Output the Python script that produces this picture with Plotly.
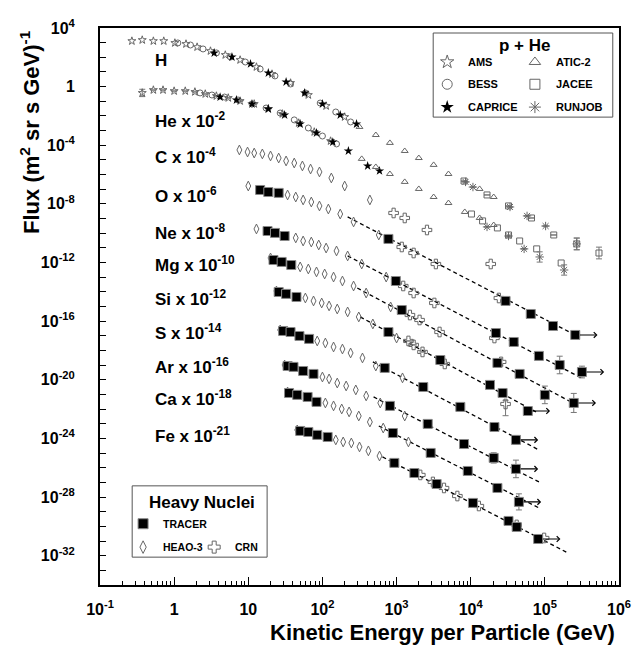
import numpy as np
import plotly.graph_objects as go

# ---------------- data: log10(E / GeV) and log10(flux) (unscaled) ----------------
# Protons
H_AMS_logE = [-0.57, -0.43, -0.28, -0.14, 0.01, 0.16, 0.31, 0.49, 0.69, 0.89, 1.11, 1.32, 1.57, 1.81, 2.05, 2.30]
H_AMS_logF = [3.11, 3.18, 3.11, 3.11, 2.98, 2.91, 2.70, 2.43, 2.16, 1.82, 1.34, 0.86, 0.25, -0.57, -1.32, -2.07]
H_BESS_logE = [0.05, 0.22, 0.39, 0.57, 0.76, 0.96, 1.16, 1.36, 1.57, 1.77, 1.97, 2.18, 2.38]
H_BESS_logF = [2.98, 2.84, 2.57, 2.30, 2.02, 1.68, 1.20, 0.73, 0.18, -0.43, -1.12, -1.73, -2.41]
H_CAPRICE_logE = [0.54, 0.78, 1.03, 1.27, 1.51, 1.76, 2.00, 2.24, 2.46]
H_CAPRICE_logF = [2.30, 2.02, 1.55, 0.93, 0.32, -0.43, -1.18, -1.93, -2.55]
H_ATIC_logE = [2.50, 2.72, 2.91, 3.11, 3.30, 3.50, 3.70, 4.12, 4.31]
H_ATIC_logF = [-2.75, -3.30, -3.84, -4.39, -4.87, -5.34, -5.96, -6.98, -7.53]
H_JACEE_logE = [3.91, 4.22, 4.51, 4.82, 5.12, 5.43, 5.73]
H_JACEE_logF = [-6.44, -7.39, -8.14, -8.96, -10.12, -10.73, -11.35]
H_JACEE_err = [0, 0, 0, 0, 0, 0.4, 0.4]
H_RUNJOB_logE = [3.93, 4.03, 4.53, 4.76, 5.01, 5.43]
H_RUNJOB_logF = [-6.50, -6.85, -8.21, -8.82, -9.51, -10.73]
H_RUNJOB_err = [0, 0, 0, 0, 0, 0.4]

# Helium
He_AMS_logE = [-0.43, -0.28, -0.15, 0.00, 0.15, 0.28, 0.42, 0.57, 0.73, 0.89, 1.08, 1.27, 1.46, 1.68, 1.89, 2.11]
He_AMS_logF = [1.57, 1.77, 1.77, 1.70, 1.70, 1.64, 1.50, 1.36, 1.23, 1.02, 0.82, 0.48, 0.14, -0.48, -1.09, -1.71]
He_AMS_err = [0.25, 0, 0, 0, 0, 0, 0, 0, 0, 0, 0, 0, 0, 0, 0, 0]
He_BESS_logE = [0.35, 0.51, 0.68, 0.86, 1.05, 1.24, 1.43, 1.62, 1.81, 2.00, 2.19]
He_BESS_logF = [1.57, 1.43, 1.29, 1.09, 0.82, 0.54, 0.20, -0.27, -0.82, -1.37, -1.91]
He_CAPRICE_logE = [0.62, 0.84, 1.05, 1.27, 1.49, 1.70, 1.92, 2.14, 2.35, 2.61, 2.77]
He_CAPRICE_logF = [1.29, 1.09, 0.82, 0.48, 0.07, -0.55, -1.16, -1.78, -2.39, -3.41, -3.75]
He_ATIC_logE = [2.53, 2.72, 2.91, 3.11, 3.30, 3.50, 3.70, 3.92, 4.12, 4.31]
He_ATIC_logF = [-2.93, -3.48, -3.96, -4.50, -4.98, -5.53, -5.94, -6.55, -6.96, -7.44]
He_JACEE_logE = [4.01, 4.16, 4.36, 4.51, 4.66, 4.89, 5.22]
He_JACEE_logF = [-6.69, -7.16, -7.64, -8.12, -8.53, -9.07, -10.03]
He_RUNJOB_logE = [4.22, 4.51, 4.72, 4.93, 5.26]
He_RUNJOB_logF = [-7.57, -8.19, -9.07, -9.62, -10.51]
He_RUNJOB_err = [0, 0, 0, 0.35, 0.35]

# Heavy nuclei: HEAO-3
C_HEAO_logE = [0.88, 0.99, 1.08, 1.19, 1.30, 1.41, 1.51, 1.62, 1.73, 1.84, 1.96, 2.12, 2.30, 2.64]
C_HEAO_logF = [-0.32, -0.46, -0.53, -0.59, -0.73, -0.87, -1.07, -1.21, -1.41, -1.62, -1.82, -2.23, -2.78, -3.73]
O_HEAO_logE = [1.00, 1.53, 1.64, 1.74, 1.85, 1.96, 2.08, 2.24, 2.42, 2.76]
O_HEAO_logF = [-0.78, -1.39, -1.53, -1.73, -1.87, -2.14, -2.35, -2.69, -3.23, -4.12]
Ne_HEAO_logE = [1.11, 1.64, 1.74, 1.85, 1.95, 2.05, 2.19, 2.34, 2.53, 2.86]
Ne_HEAO_logF = [-1.71, -2.32, -2.53, -2.60, -2.80, -3.01, -3.21, -3.55, -4.10, -4.99]
Mg_HEAO_logE = [1.30, 1.70, 1.81, 1.92, 2.03, 2.15, 2.27, 2.42, 2.59, 2.92]
Mg_HEAO_logF = [-1.69, -2.30, -2.44, -2.64, -2.78, -2.99, -3.26, -3.60, -4.08, -5.03]
Si_HEAO_logE = [1.38, 1.77, 1.88, 1.99, 2.09, 2.20, 2.34, 2.49, 2.68, 3.00]
Si_HEAO_logF = [-1.94, -2.42, -2.62, -2.76, -2.96, -3.17, -3.37, -3.71, -4.19, -5.15]
S_HEAO_logE = [1.43, 1.93, 2.04, 2.15, 2.27, 2.38, 2.54, 2.72, 3.08]
S_HEAO_logF = [-2.60, -3.35, -3.49, -3.76, -3.90, -4.17, -4.51, -5.06, -5.87]
Ar_HEAO_logE = [1.49, 2.00, 2.09, 2.20, 2.32, 2.45, 2.59, 2.78, 3.11]
Ar_HEAO_logF = [-2.99, -3.81, -3.94, -4.22, -4.42, -4.69, -5.10, -5.58, -6.47]
Ca_HEAO_logE = [1.53, 2.04, 2.15, 2.26, 2.36, 2.49, 2.64, 2.82, 3.16]
Ca_HEAO_logF = [-2.83, -3.58, -3.78, -3.99, -4.19, -4.47, -4.88, -5.29, -6.24]
Fe_HEAO_logE = [1.66, 2.18, 2.28, 2.39, 2.50, 2.62, 2.77]
Fe_HEAO_logF = [-2.42, -3.10, -3.24, -3.31, -3.58, -3.85, -4.20]

# Heavy nuclei: CRN
C_CRN_logE = [2.96, 3.11, 3.41, 4.27]
C_CRN_logF = [-4.62, -4.96, -5.78, -8.10]
O_CRN_logE = [3.07, 3.23, 3.53, 4.38]
O_CRN_logF = [-4.94, -5.35, -6.10, -8.42]
Ne_CRN_logE = [3.09, 3.23, 3.51, 4.32]
Ne_CRN_logF = [-5.60, -6.08, -6.76, -9.15]
Mg_CRN_logE = [3.18, 3.31, 3.58, 4.41]
Mg_CRN_logF = [-5.58, -5.92, -6.74, -8.78]
Si_CRN_logE = [3.16, 3.23, 3.35, 3.65, 4.47]
Si_CRN_logF = [-5.35, -5.62, -6.10, -6.92, -9.65]
Si_CRN_err_up = [0, 0, 0, 0, 0.25]
Si_CRN_err_dn = [0, 0, 0, 0, 0.8]
Fe_CRN_logE = [3.32, 3.49, 3.64, 3.82, 4.11, 4.62, 4.99]
Fe_CRN_logF = [-5.49, -5.97, -6.38, -6.93, -7.61, -8.90, -9.79]

# Heavy nuclei: TRACER
O_TR_logE = [1.16, 1.27, 1.41, 2.89, 4.47, 4.81, 5.11, 5.41]
O_TR_logF = [-1.05, -1.19, -1.25, -4.39, -8.62, -9.51, -10.33, -10.94]
O_TR_err = [0, 0, 0, 0, 0, 0, 0, 0]
Ne_TR_logE = [1.26, 1.36, 1.49, 2.99, 4.34, 4.58, 4.92, 5.20, 5.50]
Ne_TR_logF = [-1.85, -1.98, -2.19, -5.26, -8.81, -9.42, -10.37, -10.99, -11.47]
Ne_TR_err = [0, 0, 0, 0, 0, 0, 0, 0.6, 0.4]
Mg_TR_logE = [1.34, 1.45, 1.58, 3.07, 4.36, 4.66, 5.00, 5.39]
Mg_TR_logF = [-1.83, -1.96, -2.17, -5.24, -8.85, -9.60, -11.03, -11.58]
Mg_TR_err = [0, 0, 0, 0, 0, 0, 0.6, 0.65]
Si_TR_logE = [1.41, 1.51, 1.65, 2.89, 3.59, 4.26, 4.43, 4.77]
Si_TR_logF = [-2.01, -2.14, -2.35, -4.74, -6.65, -8.35, -8.90, -10.13]
Si_TR_err = [0, 0, 0, 0, 0, 0, 0, 0]
S_TR_logE = [1.47, 1.57, 1.69, 1.82, 2.84, 3.36, 3.86, 4.32, 4.61]
S_TR_logF = [-2.67, -2.74, -3.01, -3.21, -5.19, -6.49, -7.85, -9.22, -10.10]
S_TR_err = [0, 0, 0, 0, 0, 0, 0, 0, 0.3]
Ar_TR_logE = [1.53, 1.61, 1.74, 1.88, 2.91, 3.42, 3.91, 4.31, 4.61]
Ar_TR_logF = [-3.06, -3.12, -3.40, -3.60, -5.78, -7.01, -8.38, -9.33, -10.08]
Ar_TR_err = [0, 0, 0, 0, 0, 0, 0, 0.35, 0.6]
Ca_TR_logE = [1.55, 1.66, 1.80, 1.92, 2.95, 3.46, 3.96, 4.36, 4.65]
Ca_TR_logF = [-2.90, -3.03, -3.17, -3.51, -5.63, -6.99, -8.22, -9.38, -10.33]
Ca_TR_err = [0, 0, 0, 0, 0, 0, 0, 0, 0.55]
Fe_TR_logE = [1.70, 1.81, 1.93, 2.07, 2.97, 3.24, 3.54, 4.03, 4.51, 4.62, 4.91]
Fe_TR_logF = [-2.49, -2.56, -2.76, -2.90, -4.67, -5.36, -6.11, -7.40, -8.63, -9.04, -9.86]
Fe_TR_err = [0, 0, 0, 0, 0, 0, 0, 0, 0, 0, 0]

# TRACER power-law fits (log10 E range, log10 flux at the ends)
FIT_ELEMENTS = ["O", "Ne", "Mg", "Si", "S", "Ar", "Ca", "Fe"]
FIT_logE0 = [2.34, 2.34, 2.47, 2.51, 2.68, 2.69, 2.76, 2.81]
FIT_logE1 = [5.46, 5.49, 5.43, 4.88, 4.92, 4.92, 4.92, 5.31]
FIT_logF0 = [-2.89, -3.55, -3.74, -3.71, -4.78, -5.17, -5.15, -4.26]
FIT_logF1 = [-11.08, -11.87, -11.72, -10.19, -10.79, -10.97, -10.74, -10.81]

# scale factors (powers of ten) applied for display
SCALE = {"H": 0, "He": -2, "C": -4, "O": -6, "Ne": -8, "Mg": -10, "Si": -12,
         "S": -14, "Ar": -16, "Ca": -18, "Fe": -21}
LABELS = ["H", "He", "C", "O", "Ne", "Mg", "Si", "S", "Ar", "Ca", "Fe"]

# ---------------- styles ----------------
GRAY = "#666666"
STY = {
    "AMS": dict(symbol="star-open", size=6, color=GRAY, line=dict(width=1, color=GRAY)),
    "BESS": dict(symbol="circle-open", size=6, color=GRAY, line=dict(width=1, color=GRAY)),
    "CAPRICE": dict(symbol="star", size=7, color="black", line=dict(width=0)),
    "ATIC-2": dict(symbol="triangle-up-open", size=6, color=GRAY, line=dict(width=1, color=GRAY)),
    "JACEE": dict(symbol="square-open", size=6, color=GRAY, line=dict(width=1, color=GRAY)),
    "RUNJOB": dict(symbol="asterisk-open", size=7, color=GRAY, line=dict(width=1, color=GRAY)),
    "HEAO-3": dict(symbol="diamond-tall-open", size=7, color=GRAY, line=dict(width=1, color=GRAY)),
    "CRN": dict(symbol="cross-open", size=8, color=GRAY, line=dict(width=1, color=GRAY)),
    "TRACER": dict(symbol="square", size=9, color="black", line=dict(width=1, color="#888")),
}
LEG_SIZE = {"AMS": 10, "BESS": 10, "CAPRICE": 10, "ATIC-2": 10, "JACEE": 10, "RUNJOB": 10,
            "TRACER": 10, "HEAO-3": 9, "CRN": 10}

fig = go.Figure()


def add(exp, el, logE, logF, up=None, dn=None):
    s = SCALE[el]
    x = 10.0 ** np.array(logE)
    y = 10.0 ** (np.array(logF) + s)
    kw = {}
    if up is not None:
        up = np.array(up, dtype=float)
        dn = up if dn is None else np.array(dn, dtype=float)
        kw["error_y"] = dict(type="data", symmetric=False, array=y * (10 ** up - 1),
                             arrayminus=y * (1 - 10 ** (-dn)), color="#777",
                             thickness=1, width=3)
    fig.add_trace(go.Scatter(x=x, y=y, mode="markers", marker=STY[exp],
                             name=f"{exp} {el}", **kw))


# p + He
add("AMS", "H", H_AMS_logE, H_AMS_logF)
add("BESS", "H", H_BESS_logE, H_BESS_logF)
add("CAPRICE", "H", H_CAPRICE_logE, H_CAPRICE_logF)
add("ATIC-2", "H", H_ATIC_logE, H_ATIC_logF)
add("JACEE", "H", H_JACEE_logE, H_JACEE_logF, H_JACEE_err)
add("RUNJOB", "H", H_RUNJOB_logE, H_RUNJOB_logF, H_RUNJOB_err)
add("AMS", "He", He_AMS_logE, He_AMS_logF, He_AMS_err)
add("BESS", "He", He_BESS_logE, He_BESS_logF)
add("CAPRICE", "He", He_CAPRICE_logE, He_CAPRICE_logF)
add("ATIC-2", "He", He_ATIC_logE, He_ATIC_logF)
add("JACEE", "He", He_JACEE_logE, He_JACEE_logF)
add("RUNJOB", "He", He_RUNJOB_logE, He_RUNJOB_logF, He_RUNJOB_err)

# fits (dashed)
for el, e0, e1, f0, f1 in zip(FIT_ELEMENTS, FIT_logE0, FIT_logE1, FIT_logF0, FIT_logF1):
    s = SCALE[el]
    fig.add_trace(go.Scatter(x=[10 ** e0, 10 ** e1], y=[10 ** (f0 + s), 10 ** (f1 + s)],
                             mode="lines", line=dict(color="black", width=1.3, dash="4px,3px"),
                             hoverinfo="skip"))

# HEAO-3
for el, e, f in [("C", C_HEAO_logE, C_HEAO_logF), ("O", O_HEAO_logE, O_HEAO_logF),
                 ("Ne", Ne_HEAO_logE, Ne_HEAO_logF), ("Mg", Mg_HEAO_logE, Mg_HEAO_logF),
                 ("Si", Si_HEAO_logE, Si_HEAO_logF), ("S", S_HEAO_logE, S_HEAO_logF),
                 ("Ar", Ar_HEAO_logE, Ar_HEAO_logF), ("Ca", Ca_HEAO_logE, Ca_HEAO_logF),
                 ("Fe", Fe_HEAO_logE, Fe_HEAO_logF)]:
    add("HEAO-3", el, e, f)

# CRN
add("CRN", "C", C_CRN_logE, C_CRN_logF)
add("CRN", "O", O_CRN_logE, O_CRN_logF)
add("CRN", "Ne", Ne_CRN_logE, Ne_CRN_logF)
add("CRN", "Mg", Mg_CRN_logE, Mg_CRN_logF)
add("CRN", "Si", Si_CRN_logE, Si_CRN_logF, Si_CRN_err_up, Si_CRN_err_dn)
add("CRN", "Fe", Fe_CRN_logE, Fe_CRN_logF)

# TRACER
TRACER = [("O", O_TR_logE, O_TR_logF, O_TR_err), ("Ne", Ne_TR_logE, Ne_TR_logF, Ne_TR_err),
          ("Mg", Mg_TR_logE, Mg_TR_logF, Mg_TR_err), ("Si", Si_TR_logE, Si_TR_logF, Si_TR_err),
          ("S", S_TR_logE, S_TR_logF, S_TR_err), ("Ar", Ar_TR_logE, Ar_TR_logF, Ar_TR_err),
          ("Ca", Ca_TR_logE, Ca_TR_logF, Ca_TR_err), ("Fe", Fe_TR_logE, Fe_TR_logF, Fe_TR_err)]
annotations = []
for el, e, f, er in TRACER:
    add("TRACER", el, e, f, er)
    # lower-limit arrow on the highest-energy point
    annotations.append(dict(x=e[-1] + 0.30, y=f[-1] + SCALE[el], xref="x", yref="y",
                            ax=-19, ay=0, text="", showarrow=True, arrowhead=4,
                            arrowsize=1.0, arrowwidth=1.1, arrowcolor="black", standoff=0))

# ---------------- legends (overlay axis in plot fractions) ----------------
def leg(exp, x, y):
    m = dict(STY[exp])
    m["size"] = LEG_SIZE[exp]
    fig.add_trace(go.Scatter(x=[x], y=[y], mode="markers", marker=m, xaxis="x2", yaxis="y2",
                             hoverinfo="skip"))


leg("AMS", 0.669, 0.939)
leg("BESS", 0.669, 0.899)
leg("CAPRICE", 0.669, 0.858)
leg("ATIC-2", 0.838, 0.939)
leg("JACEE", 0.838, 0.899)
leg("RUNJOB", 0.838, 0.858)
leg("TRACER", 0.083, 0.110)
leg("HEAO-3", 0.083, 0.068)
leg("CRN", 0.220, 0.068)

FONT = "Liberation Sans, Arial, Helvetica, sans-serif"


def txt(s, x, y, size, xa="left", ya="middle", **kw):
    annotations.append(dict(text=s, x=x, y=y, xref="paper", yref="paper", showarrow=False,
                            xanchor=xa, yanchor=ya,
                            font=dict(family=FONT, size=size, color="black", weight="bold"), **kw))


txt("p + He", 0.819, 0.969, 17, xa="center")
for t, x, y in [("AMS", 0.705, 0.939), ("BESS", 0.705, 0.899), ("CAPRICE", 0.705, 0.858),
                ("ATIC-2", 0.875, 0.939), ("JACEE", 0.875, 0.899), ("RUNJOB", 0.875, 0.858)]:
    txt(t, x, y, 11)
txt("Heavy Nuclei", 0.197, 0.149, 17, xa="center")
txt("TRACER", 0.118, 0.110, 10.5)
txt("HEAO-3", 0.118, 0.068, 10.5)
txt("CRN", 0.256, 0.068, 10.5)

label_y = [0.941, 0.834, 0.771, 0.700, 0.633, 0.576, 0.516, 0.455, 0.394, 0.335, 0.269]
for el, yy in zip(LABELS, label_y):
    s = SCALE[el]
    t = el if s == 0 else f"{el} x 10<sup>{s}</sup>"
    txt(t, 0.102, yy, 17)

txt("Flux (m<sup>2</sup> sr s GeV)<sup>-1</sup>", -0.135, 1.0, 22, xa="center", ya="top",
    textangle=-90)
txt("Kinetic Energy per Particle (GeV)", 0.996, -0.086, 22, xa="right")

shapes = [
    dict(type="rect", xref="paper", yref="paper", x0=0.642, x1=0.988, y0=0.840, y1=0.991,
         line=dict(color="#555", width=1), fillcolor="rgba(0,0,0,0)"),
    dict(type="rect", xref="paper", yref="paper", x0=0.062, x1=0.322, y0=0.050, y1=0.178,
         line=dict(color="#555", width=1), fillcolor="rgba(0,0,0,0)"),
]

# ---------------- axes ----------------
xt = [10.0 ** k for k in range(-1, 7)]
xtt = ["10<sup>-1</sup>", "1", "10"] + [f"10<sup>{k}</sup>" for k in range(2, 7)]
xminor = [m * 10.0 ** k for k in range(-1, 6) for m in range(2, 10)]
yt = [10.0 ** k for k in range(-33, 5)]
ytt = []
for k in range(-33, 5):
    if k % 4 == 0:
        ytt.append("1" if k == 0 else f"10<sup>{k}</sup>")
    else:
        ytt.append("")

fig.update_layout(
    width=644, height=663, autosize=False,
    margin=dict(l=100, r=25, t=28, b=78, pad=0),
    paper_bgcolor="white", plot_bgcolor="white",
    showlegend=False,
    font=dict(family=FONT, color="black"),
    xaxis=dict(type="log", range=[-1, 6], showgrid=False, zeroline=False,
               showline=True, linecolor="black", linewidth=2, mirror=True,
               ticks="inside", ticklen=8, tickwidth=1, tickcolor="black",
               tickmode="array", tickvals=xt, ticktext=xtt,
               tickfont=dict(family=FONT, size=16, color="black", weight="bold"),
               ticklabelstandoff=9,
               minor=dict(tickmode="array", tickvals=xminor, ticks="inside", ticklen=4,
                          tickcolor="black", showgrid=False)),
    yaxis=dict(type="log", range=[-34, 4], showgrid=False, zeroline=False,
               showline=True, linecolor="black", linewidth=2, mirror=True,
               ticks="inside", ticklen=6, tickwidth=1, tickcolor="black",
               tickmode="array", tickvals=yt, ticktext=ytt,
               tickfont=dict(family=FONT, size=16, color="black", weight="bold"),
               ticklabelstandoff=20),
    xaxis2=dict(overlaying="x", range=[0, 1], visible=False, anchor="y2"),
    yaxis2=dict(overlaying="y", range=[0, 1], visible=False, anchor="x2"),
    annotations=annotations,
    shapes=shapes,
)

fig.write_html("out.html")
